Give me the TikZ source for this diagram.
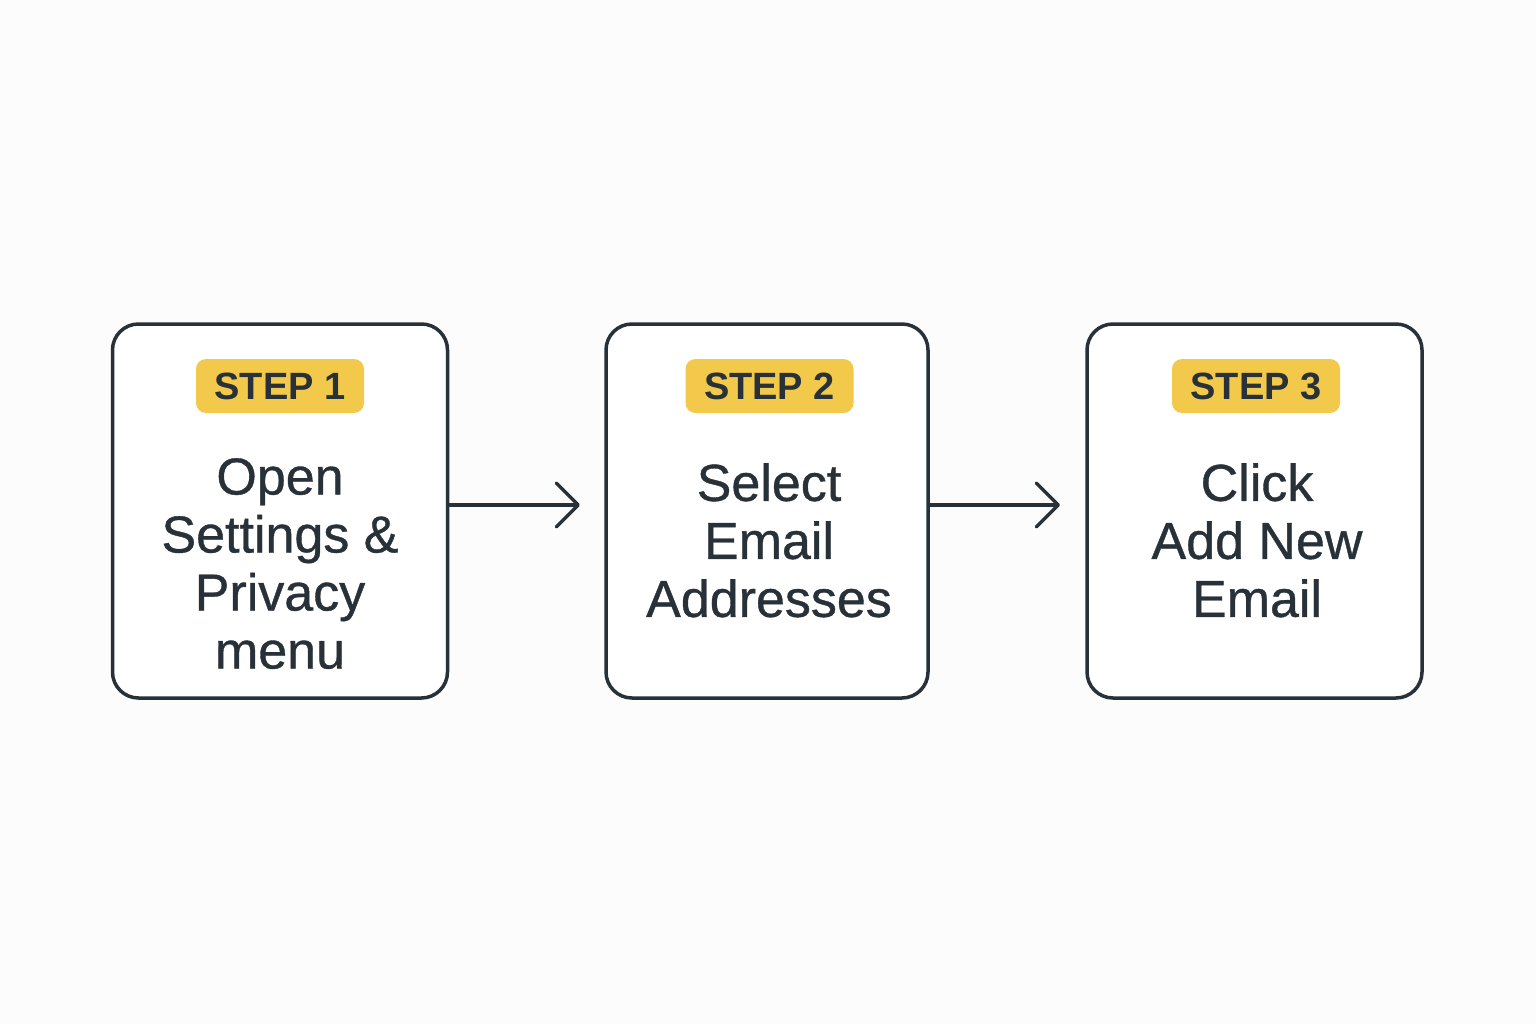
\documentclass[tikz,border=0pt]{standalone}
\usepackage{fontspec}
\setmainfont{Liberation Sans}
\newfontfamily\bodyfont[FakeBold=0.7]{Liberation Sans}
\usetikzlibrary{arrows.meta}
\definecolor{ink}{HTML}{283038}
\definecolor{badge}{HTML}{F2C94A}
\definecolor{bg}{HTML}{FCFCFC}
\tikzset{
  stepbox/.style={draw=ink, line width=3.5pt, rounded corners=26pt, fill=white,
    minimum width=335pt, minimum height=374pt, inner sep=0pt},
  badgebox/.style={fill=badge, rounded corners=10pt, minimum width=168pt,
    minimum height=54pt, inner sep=0pt, text=ink,
    font=\bfseries\fontsize{38}{40}\selectfont},
  body/.style={align=center, text=ink, inner sep=0pt, anchor=north,
    font=\bodyfont\fontsize{52}{58}\selectfont},
  flow/.style={draw=ink, line width=3.5pt,
    -{Straight Barb[length=22pt, width=44pt, line width=3.5pt, round]}}
}
\begin{document}
\begin{tikzpicture}[x=1pt,y=-1pt]
\fill[bg] (0,0) rectangle (1536,1024);
\useasboundingbox (0,0) rectangle (1536,1024);
\node[stepbox] (b1) at (280,511) {};
\node[stepbox, minimum width=322pt] (b2) at (767,511) {};
\node[stepbox] (b3) at (1254.5,511) {};
\node[badgebox] (s1) at (280,386) {STEP 1};
\node[badgebox] (s2) at (769.5,386) {STEP 2};
\node[badgebox] (s3) at (1256,386) {STEP 3};
\node[body] (t1) at (280,458) {Open\\Settings \&\\Privacy\\menu};
\node[body] (t2) at (769,463) {Select\\Email\\Addresses};
\node[body] (t3) at (1257,463) {Click\\Add New\\Email};
\coordinate (e1) at (580,505);
\coordinate (e2) at (1060,505);
\draw[flow] (b1.east |- e1) -- (e1);
\draw[flow] (b2.east |- e2) -- (e2);
\end{tikzpicture}
\end{document}
